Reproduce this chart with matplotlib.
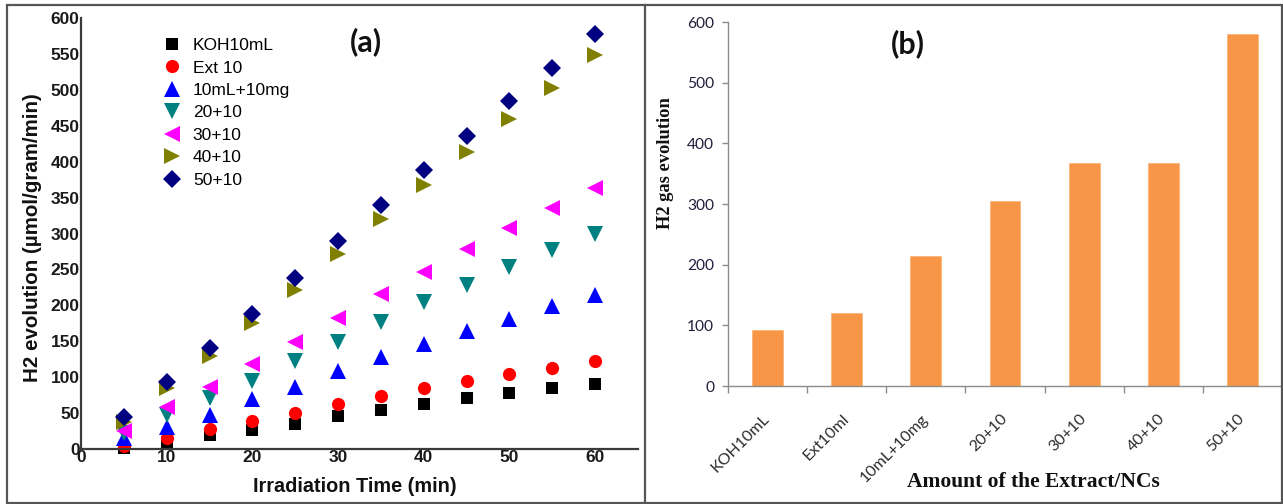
import numpy as np
import matplotlib
matplotlib.use("Agg")
import matplotlib.pyplot as plt
from matplotlib.lines import Line2D
from matplotlib.patches import Rectangle

# ---------------- data ----------------
time_min = [5, 10, 15, 20, 25, 30, 35, 40, 45, 50, 55, 60]

koh_10ml = [2, 10, 19, 26, 35, 46, 54, 63, 71, 78, 85, 91]
ext_10 = [4, 16, 28, 39, 50, 63, 74, 85, 95, 104, 113, 122]
ml10_mg10 = [16, 31, 48, 69, 87, 109, 128, 146, 164, 181, 199, 214]
s20_10 = [22, 47, 71, 95, 122, 149, 177, 205, 229, 254, 277, 300]
s30_10 = [25, 58, 87, 118, 149, 182, 216, 247, 278, 307, 335, 364]
s40_10 = [38, 85, 129, 176, 222, 271, 320, 367, 413, 459, 503, 548]
s50_10 = [45, 93, 141, 188, 238, 290, 340, 388, 436, 485, 530, 578]

series_labels = ["KOH10mL", "Ext 10", "10mL+10mg", "20+10", "30+10", "40+10", "50+10"]
series_values = [koh_10ml, ext_10, ml10_mg10, s20_10, s30_10, s40_10, s50_10]
series_colors = ["#000000", "#ff0000", "#0000ff", "#008080", "#ff00ff", "#808000", "#000080"]
series_markers = ["s", "o", "^", "v", "<", ">", "D"]
series_msizes = [8.5, 9.5, 11.5, 11.5, 11.5, 11.5, 9]

bar_categories = ["KOH10mL", "Ext10ml", "10mL+10mg", "20+10", "30+10", "40+10", "50+10"]
bar_values = [92, 121, 214, 305, 367, 367, 580]

W, H = 1283, 504
fig = plt.figure(figsize=(W / 100, H / 100), dpi=100)
fig.patch.set_facecolor("white")


def frac_box(left, top, right, bottom):
    return [left / W, 1 - bottom / H, (right - left) / W, (bottom - top) / H]


def fx(x):
    return x / W


def fy(y):
    return 1 - y / H


# ---------------- panel (a): scatter ----------------
ax = fig.add_axes(frac_box(81, 18, 638, 449))
for lab, vals, col, mk, ms in zip(series_labels, series_values, series_colors,
                                  series_markers, series_msizes):
    ax.plot(time_min, vals, linestyle="none", marker=mk, ms=ms, color=col,
            markeredgewidth=0, label=lab, clip_on=False)

ax.set_xlim(0, 65)
ax.set_ylim(0, 600)
ax.set_xticks(range(0, 61, 10))
ax.set_yticks(range(0, 601, 50))
for s in ["top", "right"]:
    ax.spines[s].set_visible(False)
for s in ["left", "bottom"]:
    ax.spines[s].set_color("#3a3a3a")
    ax.spines[s].set_linewidth(1.6)
ax.tick_params(axis="both", length=0, labelsize=12.5, colors="#1a1a1a", pad=1)
for t in ax.get_xticklabels() + ax.get_yticklabels():
    t.set_fontfamily("Liberation Sans")
    t.set_fontweight("bold")

leg = ax.legend(loc="upper left", frameon=False,
                prop={"family": "Liberation Sans", "size": 12.5},
                handletextpad=0.45, labelspacing=0.42, borderaxespad=0,
                handlelength=1.5, markerscale=1.0)
leg.set_bbox_to_anchor((fx(152), fy(31)), transform=fig.transFigure)

fig.text(fx(355), fy(487), "Irradiation Time (min)", ha="center", va="center",
         fontsize=14.3, fontweight="bold", family="Liberation Sans", color="#111111")
fig.text(fx(33), fy(238), "H2 evolution (µmol/gram/min)", ha="center", va="center",
         rotation=90, fontsize=14.8, fontweight="bold", family="Liberation Sans",
         color="#111111")
fig.text(fx(366), fy(42), "(a)", ha="center", va="center", fontsize=22,
         fontweight="bold", family="Lato", color="#111111")

# ---------------- panel (b): bars ----------------
bx = fig.add_axes(frac_box(728, 22, 1282, 386))
xpos = np.arange(len(bar_categories))
bx.bar(xpos, bar_values, width=0.39, color="#f79646", edgecolor="#fbb57a",
       linewidth=0.6, zorder=2)
bx.set_xlim(-0.5, len(bar_categories) - 0.5)
bx.set_ylim(0, 600)
bx.set_yticks(range(0, 601, 100))
for s in ["top", "right"]:
    bx.spines[s].set_visible(False)
for s in ["left", "bottom"]:
    bx.spines[s].set_color("#8c8c8c")
    bx.spines[s].set_linewidth(1.0)
bx.set_xticks(xpos)
bx.set_xticklabels(bar_categories, rotation=45, ha="right", va="center",
                   rotation_mode="anchor", family="Lato", fontsize=11.5,
                   color="#2b2b2b")
bx.tick_params(axis="x", length=0, pad=22)
bx.set_xticks(np.arange(-0.5, len(bar_categories), 1.0), minor=True)
bx.tick_params(axis="x", which="minor", length=5, color="#8c8c8c", width=1.0)
bx.tick_params(axis="y", length=4, color="#8c8c8c", width=1.0, pad=6,
               labelsize=11.2, labelcolor="#1f1f3a")
for t in bx.get_yticklabels():
    t.set_fontfamily("Lato")

fig.text(fx(1033), fy(482), "Amount of the Extract/NCs", ha="center", va="center",
         fontsize=15.5, fontweight="bold", family="Liberation Serif", color="#111111")
fig.text(fx(665), fy(163), "H2 gas evolution", ha="center", va="center",
         rotation=90, fontsize=13.3, fontweight="bold", family="Liberation Serif",
         color="#111111")
fig.text(fx(908), fy(44), "(b)", ha="center", va="center", fontsize=22,
         fontweight="bold", family="Lato", color="#111111")

# ---------------- frame and divider ----------------
fig.add_artist(Rectangle((fx(7), fy(503)), fx(1282) - fx(7), fy(5) - fy(503),
                         transform=fig.transFigure, fill=False,
                         edgecolor="#555555", linewidth=1.6))
fig.add_artist(Line2D([fx(645), fx(645)], [fy(5), fy(503)],
                      transform=fig.transFigure, color="#555555", linewidth=1.6))

fig.savefig("out.png", dpi=100, facecolor="white")
